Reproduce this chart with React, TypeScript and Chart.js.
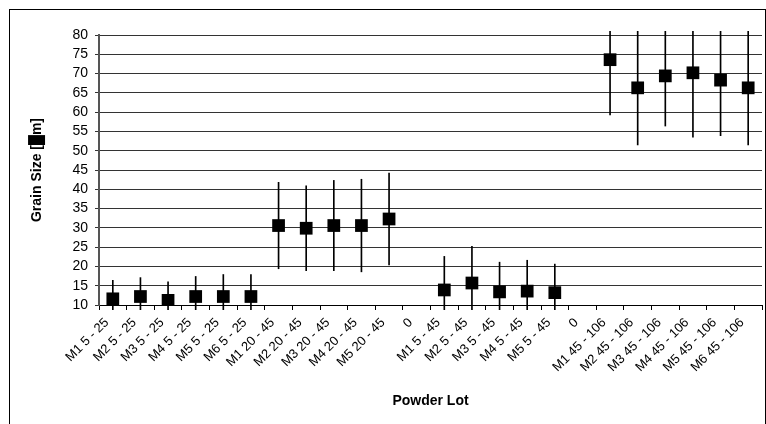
import React, { useEffect, useRef } from 'react';
import { Chart, registerables } from 'chart.js';

Chart.register(...registerables);

const categories: string[] = [
  'M1 5 - 25', 'M2 5 - 25', 'M3 5 - 25', 'M4 5 - 25', 'M5 5 - 25', 'M6 5 - 25',
  'M1 20 - 45', 'M2 20 - 45', 'M3 20 - 45', 'M4 20 - 45', 'M5 20 - 45', '0',
  'M1 5 - 45', 'M2 5 - 45', 'M3 5 - 45', 'M4 5 - 45', 'M5 5 - 45', '0',
  'M1 45 - 106', 'M2 45 - 106', 'M3 45 - 106', 'M4 45 - 106', 'M5 45 - 106', 'M6 45 - 106',
];

const meanSize: (number | null)[] = [
  11.6, 12.2, 11.2, 12.2, 12.2, 12.2,
  30.6, 29.9, 30.6, 30.6, 32.3, null,
  13.9, 15.7, 13.4, 13.6, 13.2, null,
  73.6, 66.3, 69.4, 70.2, 68.3, 66.3,
];

const errorSize: (number | null)[] = [
  4.8, 4.9, 4.8, 5.2, 5.7, 5.7,
  11.2, 11.0, 11.7, 12.0, 11.9, null,
  8.7, 9.5, 7.7, 8.0, 7.4, null,
  14.3, 14.8, 13.0, 16.7, 14.4, 14.8,
];

const yMin = 10;
const yMax = 80;
const yStep = 5;

const FONT = "'Liberation Sans', Arial, sans-serif";

export default function App() {
  const ref = useRef<HTMLCanvasElement>(null);

  useEffect(() => {
    const ranges = meanSize.map((m, i) =>
      m == null || errorSize[i] == null ? null : [m - (errorSize[i] as number), m + (errorSize[i] as number)]
    );
    const chart = new Chart(ref.current as HTMLCanvasElement, {
      type: 'bar',
      data: {
        labels: categories,
        datasets: [
          {
            type: 'line',
            data: meanSize,
            showLine: false,
            pointStyle: 'rect',
            pointRadius: 9,
            pointHoverRadius: 9,
            pointBackgroundColor: '#000',
            pointBorderWidth: 0,
            borderColor: '#000',
            backgroundColor: '#000',
          } as any,
          {
            type: 'bar',
            data: ranges as any,
            backgroundColor: '#000',
            barThickness: 1,
            clip: { left: 0, right: 0, top: 4, bottom: 5 },
          } as any,
        ],
      },
      options: {
        responsive: false,
        animation: false,
        layout: { padding: { left: 0, top: 25, right: 5, bottom: 0 } },
        plugins: { legend: { display: false }, tooltip: { enabled: false } },
        scales: {
          x: {
            offset: true,
            grid: { offset: true, drawOnChartArea: false, drawTicks: true, tickLength: 5, color: '#000' },
            border: { display: true, color: '#000', width: 1 },
            ticks: {
              autoSkip: false,
              minRotation: 45,
              maxRotation: 45,
              padding: 5,
              labelOffset: -6,
              color: '#000',
              font: { family: FONT, size: 13 },
            },
            title: {
              display: true,
              text: 'Powder Lot',
              color: '#000',
              font: { family: FONT, size: 14, weight: 'bold' },
              padding: { top: 0, bottom: 14 },
            },
            afterFit: (s: any) => {
              s.height = 119;
            },
          },
          y: {
            min: yMin,
            max: yMax,
            ticks: {
              stepSize: yStep,
              autoSkip: false,
              padding: 7,
              color: '#000',
              font: { family: FONT, size: 14, lineHeight: 1 },
            },
            grid: { color: '#333', tickLength: 4, drawTicks: true },
            border: { display: true, color: '#555', width: 2 },
            title: {
              display: true,
              text: 'Grain Size [\u2588m]',
              color: '#000',
              font: { family: FONT, size: 14, weight: 'bold' },
              padding: { top: 19, bottom: 0 },
            },
            afterFit: (s: any) => {
              s.width = 89;
            },
          },
        },
      } as any,
    });
    return () => chart.destroy();
  }, []);

  return (
    <div
      style={{
        position: 'absolute',
        left: 9,
        top: 9,
        width: 757,
        height: 415,
        border: '1px solid #000',
        borderBottom: 'none',
        boxSizing: 'border-box',
        overflow: 'hidden',
        background: '#fff',
      }}
    >
      <canvas ref={ref} width={761} height={414} style={{ display: 'block' }} />
    </div>
  );
}
